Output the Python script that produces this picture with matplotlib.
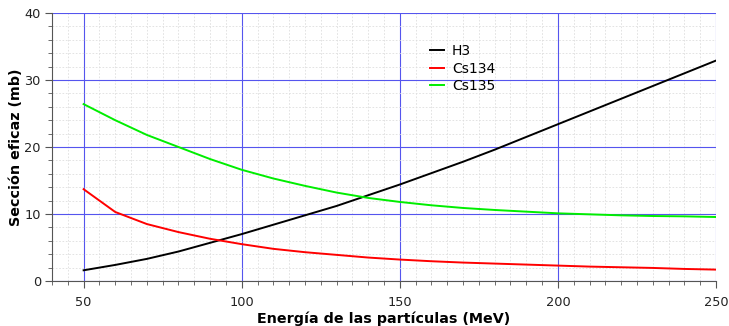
import matplotlib
matplotlib.use("Agg")
import matplotlib.pyplot as plt
from matplotlib.ticker import MultipleLocator

energy = [50, 60, 70, 80, 90, 100, 110, 120, 130, 140, 150, 160, 170, 180,
          190, 200, 210, 220, 230, 240, 250]
h3 = [1.6, 2.4, 3.3, 4.4, 5.7, 7.0, 8.4, 9.8, 11.2, 12.8, 14.4, 16.1, 17.8,
      19.6, 21.5, 23.4, 25.3, 27.2, 29.1, 31.0, 32.9]
cs134 = [13.7, 10.3, 8.5, 7.3, 6.3, 5.5, 4.8, 4.3, 3.9, 3.5, 3.2, 2.95, 2.75,
         2.6, 2.45, 2.3, 2.15, 2.05, 1.95, 1.8, 1.7]
cs135 = [26.4, 24.0, 21.8, 20.0, 18.2, 16.6, 15.3, 14.2, 13.2, 12.4, 11.8,
         11.3, 10.9, 10.6, 10.35, 10.1, 9.95, 9.8, 9.7, 9.65, 9.55]
series_names = ["H3", "Cs134", "Cs135"]
series_colors = ["#000000", "#ff0000", "#00ee00"]

plt.rcParams["font.family"] = ["DejaVu Sans"]

fig = plt.figure(figsize=(7.29, 3.26), dpi=100)
ax = fig.add_axes([52 / 729, 1 - 281 / 326, (716 - 52) / 729, (281 - 13) / 326])

ax.set_xlim(40, 250)
ax.set_ylim(0, 40)
ax.xaxis.set_major_locator(MultipleLocator(50))
ax.xaxis.set_minor_locator(MultipleLocator(5))
ax.yaxis.set_major_locator(MultipleLocator(10))
ax.yaxis.set_minor_locator(MultipleLocator(2))

ax.grid(which="minor", color="#dedede", linestyle=(0, (2, 2)), linewidth=0.6)
ax.grid(which="major", color="#5555ee", linestyle="-", linewidth=0.8)
ax.set_axisbelow(True)

for y, c, lbl in zip([h3, cs134, cs135], series_colors, series_names):
    ax.plot(energy, y, color=c, linewidth=1.4, label=lbl)

for s in ["top", "right"]:
    ax.spines[s].set_visible(False)
for s in ["left", "bottom"]:
    ax.spines[s].set_color("#555555")
    ax.spines[s].set_linewidth(0.8)

ax.tick_params(which="major", direction="out", length=5, color="#555555",
               labelsize=9.3, labelcolor="#222222", pad=3)
ax.tick_params(which="minor", direction="out", length=3, color="#555555")
ax.tick_params(axis="x", pad=6)

ax.set_xlabel("Energía de las partículas (MeV)", fontsize=10.3,
              fontweight="bold")
ax.set_ylabel("Sección eficaz (mb)", fontsize=10.3, fontweight="bold")
ax.xaxis.set_label_coords(0.5, -0.112)
ax.yaxis.set_label_coords(-0.043, 0.5)

leg = ax.legend(loc="upper left", bbox_to_anchor=(0.55, 0.93), frameon=False,
                handlelength=1.0, handletextpad=0.6, fontsize=10,
                labelspacing=0.25)
for line in leg.get_lines():
    line.set_linewidth(1.4)

fig.savefig("out.png", dpi=100)
